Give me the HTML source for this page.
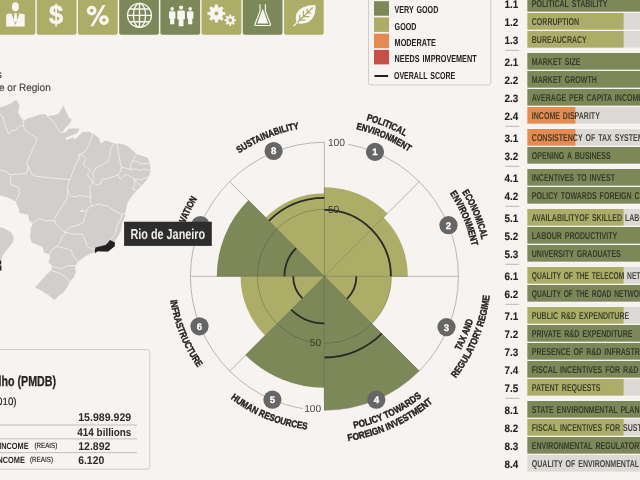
<!DOCTYPE html>
<html><head><meta charset="utf-8"><title>Rio de Janeiro</title>
<style>
html,body{margin:0;padding:0;background:#f6f3f0;}
body{width:640px;height:480px;overflow:hidden;position:relative;font-family:"Liberation Sans",sans-serif;}
svg{position:absolute;left:0;top:0;display:block;will-change:transform;text-rendering:geometricPrecision;font-family:"Liberation Sans",sans-serif;}
</style></head><body>
<svg width="640" height="480" viewBox="0 0 640 480">
<path d="M-4.4 -2H35.3V32.8a2 2 0 0 1 -2 2H-2.4a2 2 0 0 1 -2 -2Z" fill="#acae68"/>
<path d="M36.8 -2H76.5V32.8a2 2 0 0 1 -2 2H38.8a2 2 0 0 1 -2 -2Z" fill="#acae68"/>
<path d="M78 -2H117.7V32.8a2 2 0 0 1 -2 2H80a2 2 0 0 1 -2 -2Z" fill="#acae68"/>
<path d="M119.2 -2H158.9V32.8a2 2 0 0 1 -2 2H121.2a2 2 0 0 1 -2 -2Z" fill="#7d8859"/>
<path d="M160.4 -2H200.1V32.8a2 2 0 0 1 -2 2H162.4a2 2 0 0 1 -2 -2Z" fill="#7d8859"/>
<path d="M201.6 -2H241.3V32.8a2 2 0 0 1 -2 2H203.6a2 2 0 0 1 -2 -2Z" fill="#acae68"/>
<path d="M242.8 -2H282.5V32.8a2 2 0 0 1 -2 2H244.8a2 2 0 0 1 -2 -2Z" fill="#7d8859"/>
<path d="M284 -2H323.7V32.8a2 2 0 0 1 -2 2H286a2 2 0 0 1 -2 -2Z" fill="#acae68"/>
<g fill="#f8f6f2">
<ellipse cx="15.4" cy="6.8" rx="3.5" ry="4.5"/>
<path d="M6.2 26.6V15.6Q6.2 13.9 7.9 13.7L12.2 13.4H18.9L23 13.7Q24.7 13.9 24.7 15.6V26.6Z"/>
<path d="M11.5 13.2L15.45 25L19.5 13.2Z" fill="#acae68"/>
<path d="M14.3 13.2H16.7L17.1 20.2L15.5 22.6L13.9 20.2Z"/>
</g>
<text x="49.1" y="23.9" font-size="27" font-weight="bold" fill="#f8f6f2" textLength="14.2" lengthAdjust="spacingAndGlyphs" stroke="#f8f6f2" stroke-width="0.5">$</text>
<g fill="none" stroke="#f8f6f2" stroke-width="3.1"><circle cx="91.7" cy="10.6" r="3.35"/><circle cx="104" cy="20.1" r="3.35"/></g>
<path d="M102.6 5.1H105.6L93.3 26.3H90.3Z" fill="#f8f6f2"/>
<g fill="none" stroke="#f8f6f2" stroke-width="1.35"><circle cx="139.5" cy="15.3" r="11.9"/><ellipse cx="139.5" cy="15.3" rx="6.1" ry="11.9"/><path d="M139.5 3.4V27.2M127.6 15.3H151.4M129.4 9H149.6M129.4 21.7H149.6"/></g>
<g fill="#f8f6f2">
<circle cx="172.2" cy="8.9" r="1.8"/><path d="M169 12.5Q169 11.3 170.2 11.3H174.2Q175.4 11.3 175.4 12.5V18.45H174.3V24.3H170.1V18.45H169Z"/>
<circle cx="181.1" cy="7.6" r="2.1"/><path d="M177.3 11.7Q177.3 10.5 178.5 10.5H183.7Q184.9 10.5 184.9 11.7V19.19H183.5V26.3H178.7V19.19H177.3Z"/>
<circle cx="190.2" cy="8.9" r="1.8"/><path d="M187 12.5Q187 11.3 188.2 11.3H192.2Q193.4 11.3 193.4 12.5V18.45H192.3V24.3H188.1V18.45H187Z"/>
</g>
<g fill="#f8f6f2">
<path d="M222.82 11.96 L225.29 12.09 L225.29 14.91 L222.82 15.04 L222.03 16.95 L223.68 18.79 L221.69 20.78 L219.85 19.13 L217.94 19.92 L217.81 22.39 L214.99 22.39 L214.86 19.92 L212.95 19.13 L211.11 20.78 L209.12 18.79 L210.77 16.95 L209.98 15.04 L207.51 14.91 L207.51 12.09 L209.98 11.96 L210.77 10.05 L209.12 8.21 L211.11 6.22 L212.95 7.87 L214.86 7.08 L214.99 4.61 L217.81 4.61 L217.94 7.08 L219.85 7.87 L221.69 6.22 L223.68 8.21 L222.03 10.05Z M214.40 13.50a2 2 0 1 0 4 0a2 2 0 1 0 -4 0Z" fill-rule="evenodd"/>
<path d="M234.19 19.24 L235.93 19.29 L235.93 21.11 L234.19 21.16 L233.70 22.34 L234.89 23.61 L233.61 24.89 L232.34 23.70 L231.16 24.19 L231.11 25.93 L229.29 25.93 L229.24 24.19 L228.06 23.70 L226.79 24.89 L225.51 23.61 L226.70 22.34 L226.21 21.16 L224.47 21.11 L224.47 19.29 L226.21 19.24 L226.70 18.06 L225.51 16.79 L226.79 15.51 L228.06 16.70 L229.24 16.21 L229.29 14.47 L231.11 14.47 L231.16 16.21 L232.34 16.70 L233.61 15.51 L234.89 16.79 L233.70 18.06Z M228.30 20.20a1.9 1.9 0 1 0 3.8 0a1.9 1.9 0 1 0 -3.8 0Z" fill-rule="evenodd"/>
</g>
<path d="M260 4.2V11.4L254.9 24.2Q254.6 25.5 256 25.5H269.4Q270.8 25.5 270.5 24.2L265.4 11.4V4.2" fill="none" stroke="#f8f6f2" stroke-width="1.15" stroke-linejoin="round"/>
<path d="M262.7 8.6L257.2 23.6H268.2Z" fill="#f8f6f2"/>
<path d="M296.4 23.2Q293.6 12 302.6 7.6Q308.5 5 315.4 4.8Q316.2 12.4 312.9 17.8Q308 25.4 296.4 23.2Z" fill="#f8f6f2"/>
<path d="M293.9 25.8L312.2 8M303.4 16.6V11M303.4 16.6H309M299.8 20.1V15.2M299.8 20.1H305M307.2 12.9V9M307.2 12.9H310.6" fill="none" stroke="#acae68" stroke-width="1.2" stroke-linecap="round"/>
<path d="M293.9 25.8L297.4 22.4" fill="none" stroke="#f8f6f2" stroke-width="1.3" stroke-linecap="round"/>
<text x="-3.6" y="78" font-size="10.7" font-weight="normal" fill="#444" text-anchor="start" stroke="#444" stroke-width="0.15">s</text>
<text x="-1" y="90.6" font-size="10.7" font-weight="normal" fill="#444" text-anchor="start" textLength="51.7" lengthAdjust="spacingAndGlyphs" stroke="#444" stroke-width="0.15">e or Region</text>
<g stroke-linejoin="round" stroke-linecap="round">
<path d="M-3 226.9 L0 226.9 L5 228.8 L11.2 232.5 L13.8 237.5 L13.1 241.9 L9.4 246.9 L5 251.9 L2.5 256.2 L1.2 260 L0 261.2 L-3 261.2Z" fill="#d1cecd"/>
<path d="M-3 107.5 L0 107.5 L4.7 105.9 L10.9 103.6 L14.8 100.5 L17.2 100.5 L19.5 105.9 L18 112.2 L21.1 117.7 L23.4 120.8 L27.3 118.4 L32.8 116.9 L39.8 114.5 L45.3 114.1 L47.7 116.1 L53.9 115.3 L58.6 113.8 L63.3 105.2 L65.6 110.6 L68.8 117.7 L71.9 119.2 L69.5 123.9 L64.8 128.6 L62.5 132.5 L65.6 132.5 L68.8 128.6 L79.7 128.6 L77.3 133.3 L68.8 136.4 L65.6 138 L66.4 140.3 L73.4 137.2 L75 139.5 L80.5 134.1 L82.8 131.7 L89.1 131.7 L93.8 134.1 L99 138.3 L100.6 143.8 L105.3 140.6 L114.7 143.4 L122.5 144 L128.8 146.9 L136.6 153.9 L147.5 157.8 L149.8 163.3 L150.6 170.3 L149 176.6 L144.4 182.8 L141.2 185.9 L136.6 190.6 L131.9 196.3 L127.5 202.5 L125.9 210.3 L125.2 216.6 L122 223.6 L121.2 230.6 L118.1 236.1 L115 240.8 L115 242.3 L114.7 246.2 L111.1 249.1 L108 251.7 L102.5 251.2 L97 251.2 L95 252.8 L90.8 253.3 L83.3 257.5 L77.5 262.5 L75 266.7 L75.8 271.7 L74.2 276.7 L70 281.7 L67.5 286.7 L63.3 292.5 L57.5 296.7 L56.7 298.3 L54.2 300 L48.3 295 L40 290 L35 287.5 L40.8 280.8 L46.7 274.2 L51.7 270 L51.7 265 L48.3 262.5 L50 257.5 L49.2 254.2 L44.2 252.5 L42.5 246.7 L37.5 245 L31.7 242.5 L30 237.5 L30.8 231.7 L30.5 228.8 L32.8 223.3 L28.9 220.2 L28.1 214.7 L19.5 213.1 L18.8 208.4 L15.6 201.4 L7.8 197.5 L0 195.2 L-3 195Z" fill="#d1cecd"/>
<path d="M0 114.5 L3.1 116.9 L5.5 126.2 L8.6 134.1 L10.9 130.9 L15.6 130.2 L18.8 126.2 L23.4 125.5 M23.4 120.8 L23.4 125.5 L25 130.2 L37.5 138.8 L26.6 163 L28.1 166.2 M28.1 166.2 L26.6 173.3 L10.2 174.8 L4.7 170.9 L0 170.2 M28.1 166.2 L31.2 173.3 L35.9 176.4 L69.5 179.5 M46.9 116.1 L53.1 120.8 L59.4 131.7 L62.5 132.5 M92.8 133.6 L88.9 145.3 L85 151.6 L78.8 154.7 M78.8 154.7 L79.5 157.8 L74.8 166.4 L71.7 175 L69.5 179.5 M69.5 179.5 L67.2 188.1 L68.1 190 L66.6 199.4 L60.3 208.8 L54.8 218.1 L54.8 222 M78.8 154.7 L83.4 155.5 L85.8 158.6 L83.4 164.8 L90.5 170.3 L87.3 174.2 L89.7 178.1 L92.8 182 L89.7 187.5 L90.5 195.3 L90.8 197 M68.1 190 L69.7 195.5 L75.9 197 L79 195.5 L90.8 197 M114.7 143.4 L110.8 148.4 L109.2 158.6 L106.9 162.5 L95.9 168 L92.8 173.4 L93.6 179.7 L92.8 182 M117 144 L118.6 153.1 L120.2 162.5 L121.7 167.2 M121.7 167.2 L120.2 171.9 L117.8 175 L106.9 178.9 L102.2 178.9 L100.6 183.6 L95.9 185.2 L92.8 182 M136.6 153.9 L132.7 160.9 L130.3 166.4 L131.1 169.5 L121.7 167.2 M132.7 160.9 L138.1 161.7 L141.2 164 L149.8 163.3 M131.1 169.5 L136.6 168.8 L138.1 170.3 L144.4 169.5 L150.6 170.3 M117.8 175 L120.2 178.9 L125.6 174.2 L130.3 176.6 L134.2 178.9 L141.2 179.7 L149 176.6 M134.2 178.9 L136.6 182 L141.2 185.9 M134.2 178.9 L135 184.4 L132.7 189 L136.6 190.6 M90.8 197 L90 199.4 L91.6 206.4 M86.9 209.5 L90.8 206.4 L99.4 203.8 L103.3 205.6 L107.2 205.6 L112.7 209.5 L116.6 211.9 L122 214.7 L125.7 213 M122 214.7 L120.5 219.7 L117.3 225.2 L115.8 232.2 L113.4 236.9 L110.3 240 M86.9 209.5 L85.3 215.8 L83 222.8 L78.3 225.2 L68.9 227.5 L65 232.2 M81 210.3 L83.8 210.3 L83.8 211.5 L81 211.5 L81 210.3 M32.8 223.3 L39.1 218.6 L45.3 220.9 L51.6 220.2 L54.8 222 M54.8 222 L58.8 227.5 L65 232.2 M65 232.2 L66.7 232.5 L63.3 235 L59.2 243.3 L56.7 246.7 L51.7 250 L49.2 254.2 M66.7 232.5 L73.3 234.2 L82.5 234.2 L85 240 L87.5 246.7 L93.3 249.2 L94.7 248.6 M56.7 246.7 L61.7 247.5 L70.8 250 L73.3 255.8 L77.5 260.8 L77.5 262.5 M51.7 266.7 L62.5 268.7 L66.7 265.8 L75 265.5 M51.7 270.8 L58.3 272.5 L65 276.7 L68.3 280 L70 281.7 M10.2 174.8 L10.9 185 L18.8 187.3 L19.5 193.6 L15.6 201.4" fill="none" stroke="#f4f1ee" stroke-width="0.8"/>
<path d="M110 239.9 L114.9 242.4 L114.8 246.3 L112.5 248.1 L109.4 250.6 L108.1 251.6 L102.5 251.6 L97.5 251.3 L95.3 253.3 L94.8 250 L95.5 247.4 L101.2 246 L105.6 245 L108.1 242.5Z" fill="#222"/>
<path d="M-1 260.6H1.2V264.6H-1ZM-1 265.6H1.4V270.6H-1Z" fill="#222"/>
</g>
<g fill="none" stroke="#a9a6a3" stroke-width="0.8">
<circle cx="324.4" cy="276.3" r="134"/>
<line x1="324.4" y1="276.3" x2="324.4" y2="142.3"/>
<line x1="324.4" y1="276.3" x2="419.15" y2="181.55"/>
<line x1="324.4" y1="276.3" x2="458.4" y2="276.3"/>
<line x1="324.4" y1="276.3" x2="419.15" y2="371.05"/>
<line x1="324.4" y1="276.3" x2="324.4" y2="410.3"/>
<line x1="324.4" y1="276.3" x2="229.65" y2="371.05"/>
<line x1="324.4" y1="276.3" x2="190.4" y2="276.3"/>
<line x1="324.4" y1="276.3" x2="229.65" y2="181.55"/>
</g>
<path d="M324.4 276.3L324.4 187.3A89 89 0 0 1 387.33 213.37Z" fill="#acae68"/>
<path d="M324.4 276.3L383.44 217.26A83.5 83.5 0 0 1 407.9 276.3Z" fill="#acae68"/>
<path d="M324.4 276.3L391.4 276.3A67 67 0 0 1 371.78 323.68Z" fill="#acae68"/>
<path d="M324.4 276.3L419.15 371.05A134 134 0 0 1 324.4 410.3Z" fill="#7d8859"/>
<path d="M324.4 276.3L324.4 387.8A111.5 111.5 0 0 1 245.56 355.14Z" fill="#7d8859"/>
<path d="M324.4 276.3L265.14 335.56A83.8 83.8 0 0 1 240.6 276.3Z" fill="#acae68"/>
<path d="M324.4 276.3L216.8 276.3A107.6 107.6 0 0 1 248.32 200.22Z" fill="#7d8859"/>
<path d="M324.4 276.3L265.71 217.61A83 83 0 0 1 324.4 193.3Z" fill="#acae68"/>
<g fill="none" stroke="#3c4022" stroke-opacity="0.45" stroke-width="0.7">
<circle cx="324.4" cy="276.3" r="67"/>
<line x1="324.4" y1="276.3" x2="324.4" y2="187.3"/>
<line x1="324.4" y1="276.3" x2="387.33" y2="213.37"/>
<line x1="324.4" y1="276.3" x2="407.9" y2="276.3"/>
<line x1="324.4" y1="276.3" x2="419.15" y2="371.05"/>
<line x1="324.4" y1="276.3" x2="324.4" y2="410.3"/>
<line x1="324.4" y1="276.3" x2="245.56" y2="355.14"/>
<line x1="324.4" y1="276.3" x2="216.8" y2="276.3"/>
<line x1="324.4" y1="276.3" x2="248.32" y2="200.22"/>
</g>
<g fill="none" stroke="#2a2a2a" stroke-width="1.8">
<path d="M324.4 209.8A66.5 66.5 0 0 1 371.42 229.28"/>
<path d="M371.42 229.28A66.5 66.5 0 0 1 390.9 276.3"/>
<path d="M356.4 276.3A32 32 0 0 1 347.03 298.93"/>
<path d="M381.82 333.72A81.2 81.2 0 0 1 324.4 357.5"/>
<path d="M324.4 323.3A47 47 0 0 1 291.17 309.53"/>
<path d="M302.34 298.36A31.2 31.2 0 0 1 293.2 276.3"/>
<path d="M284.4 276.3A40 40 0 0 1 296.12 248.02"/>
<path d="M268.96 220.86A78.4 78.4 0 0 1 324.4 197.9"/>
</g>
<rect x="325" y="136" width="23" height="13" fill="#f6f3f0"/>
<text x="327.9" y="146" font-size="10.3" font-weight="normal" fill="#4a4a4a" text-anchor="start">100</text>
<text x="327.9" y="212.6" font-size="10.3" font-weight="normal" fill="#3a3a3a" text-anchor="start">50</text>
<rect x="303" y="402.5" width="21" height="13" fill="#f6f3f0"/>
<text x="321.2" y="412.3" font-size="10.2" font-weight="normal" fill="#4a4a4a" text-anchor="end">100</text>
<rect x="309.5" y="337.5" width="14.4" height="10" fill="#7d8859"/>
<text x="321.2" y="345.7" font-size="10.2" font-weight="normal" fill="#33361f" text-anchor="end">50</text>
<circle cx="375" cy="151.9" r="9.1" fill="#666"/>
<text x="375" y="155.35" font-size="9.6" font-weight="bold" fill="#fff" text-anchor="middle" stroke="#fff" stroke-width="0.3">1</text>
<circle cx="448.5" cy="225.2" r="9.1" fill="#666"/>
<text x="448.5" y="228.65" font-size="9.6" font-weight="bold" fill="#fff" text-anchor="middle" stroke="#fff" stroke-width="0.3">2</text>
<circle cx="446.5" cy="327.1" r="9.1" fill="#666"/>
<text x="446.5" y="330.55" font-size="9.6" font-weight="bold" fill="#fff" text-anchor="middle" stroke="#fff" stroke-width="0.3">3</text>
<circle cx="376.3" cy="399.7" r="9.1" fill="#666"/>
<text x="376.3" y="403.15" font-size="9.6" font-weight="bold" fill="#fff" text-anchor="middle" stroke="#fff" stroke-width="0.3">4</text>
<circle cx="272.4" cy="399.7" r="9.1" fill="#666"/>
<text x="272.4" y="403.15" font-size="9.6" font-weight="bold" fill="#fff" text-anchor="middle" stroke="#fff" stroke-width="0.3">5</text>
<circle cx="199.5" cy="326.3" r="9.1" fill="#666"/>
<text x="199.5" y="329.75" font-size="9.6" font-weight="bold" fill="#fff" text-anchor="middle" stroke="#fff" stroke-width="0.3">6</text>
<circle cx="200.4" cy="225" r="9.1" fill="#666"/>
<circle cx="273.6" cy="151" r="9.1" fill="#666"/>
<text x="273.6" y="154.45" font-size="9.6" font-weight="bold" fill="#fff" text-anchor="middle" stroke="#fff" stroke-width="0.3">8</text>
<g font-size="9.7" font-weight="bold" fill="#222" stroke="#222" stroke-width="0.4">
<path id="lp0" d="M366.2 120.3A161.5 161.5 0 0 1 405.15 136.44" fill="none" stroke="none"/>
<text textLength="41.98" lengthAdjust="spacingAndGlyphs"><textPath href="#lp0" textLength="41.98" lengthAdjust="spacingAndGlyphs">POLITICAL</textPath></text>
<path id="lp1" d="M355.91 129.34A150.3 150.3 0 0 1 408.88 151.99" fill="none" stroke="none"/>
<text textLength="57.67" lengthAdjust="spacingAndGlyphs"><textPath href="#lp1" textLength="57.67" lengthAdjust="spacingAndGlyphs">ENVIRONMENT</textPath></text>
<path id="lp2" d="M462.1 191.92A161.5 161.5 0 0 1 481.76 239.97" fill="none" stroke="none"/>
<text textLength="51.85" lengthAdjust="spacingAndGlyphs"><textPath href="#lp2" textLength="51.85" lengthAdjust="spacingAndGlyphs">ECONOMICAL</textPath></text>
<path id="lp3" d="M449.73 193.34A150.3 150.3 0 0 1 471.68 246.33" fill="none" stroke="none"/>
<text textLength="57.41" lengthAdjust="spacingAndGlyphs"><textPath href="#lp3" textLength="57.41" lengthAdjust="spacingAndGlyphs">ENVIRONMENT</textPath></text>
<path id="lp4" d="M460.23 350.97A155 155 0 0 0 473.17 319.8" fill="none" stroke="none"/>
<text textLength="33.52" lengthAdjust="spacingAndGlyphs"><textPath href="#lp4" textLength="33.52" lengthAdjust="spacingAndGlyphs">TAX AND</textPath></text>
<path id="lp5" d="M455.7 378.52A166.4 166.4 0 0 0 489.7 295.43" fill="none" stroke="none"/>
<text textLength="90.6" lengthAdjust="spacingAndGlyphs"><textPath href="#lp5" textLength="90.6" lengthAdjust="spacingAndGlyphs">REGULATORY REGIME</textPath></text>
<path id="lp6" d="M353.98 428.45A155 155 0 0 0 421.94 396.76" fill="none" stroke="none"/>
<text textLength="75.45" lengthAdjust="spacingAndGlyphs"><textPath href="#lp6" textLength="75.45" lengthAdjust="spacingAndGlyphs">POLICY TOWARDS</textPath></text>
<path id="lp7" d="M348.13 441A166.4 166.4 0 0 0 433.13 402.26" fill="none" stroke="none"/>
<text textLength="94.38" lengthAdjust="spacingAndGlyphs"><textPath href="#lp7" textLength="94.38" lengthAdjust="spacingAndGlyphs">FOREIGN INVESTMENT</textPath></text>
<path id="lp8" d="M230.65 398.48A154 154 0 0 0 307.23 429.34" fill="none" stroke="none"/>
<text textLength="83.29" lengthAdjust="spacingAndGlyphs"><textPath href="#lp8" textLength="83.29" lengthAdjust="spacingAndGlyphs">HUMAN RESOURCES</textPath></text>
<path id="lp9" d="M170.28 300.43A156 156 0 0 0 198.03 367.77" fill="none" stroke="none"/>
<text textLength="73.21" lengthAdjust="spacingAndGlyphs"><textPath href="#lp9" textLength="73.21" lengthAdjust="spacingAndGlyphs">INFRASTRUCTURE</textPath></text>
<path id="lp10" d="M179.52 241.52A149 149 0 0 1 197.36 198.45" fill="none" stroke="none"/>
<text textLength="46.51" lengthAdjust="spacingAndGlyphs"><textPath href="#lp10" textLength="46.51" lengthAdjust="spacingAndGlyphs">INNOVATION</textPath></text>
<path id="lp11" d="M239.08 153.54A149.5 149.5 0 0 1 299.47 128.89" fill="none" stroke="none"/>
<text textLength="65.45" lengthAdjust="spacingAndGlyphs"><textPath href="#lp11" textLength="65.45" lengthAdjust="spacingAndGlyphs">SUSTAINABILITY</textPath></text>
</g>
<rect x="368.5" y="-5" width="122.3" height="90" rx="2.5" fill="none" stroke="#cfccc9" stroke-width="1"/>
<rect x="374" y="1.2" width="15" height="14.5" fill="#7d8859"/>
<text x="394.6" y="12.8" font-size="10.1" font-weight="bold" fill="#222" text-anchor="start" textLength="43.7" lengthAdjust="spacingAndGlyphs" word-spacing="1.41">VERY GOOD</text>
<rect x="374" y="17.43" width="15" height="14.5" fill="#acae68"/>
<text x="394.6" y="29.8" font-size="10.1" font-weight="bold" fill="#222" text-anchor="start" textLength="21.8" lengthAdjust="spacingAndGlyphs" word-spacing="1.41">GOOD</text>
<rect x="374" y="33.66" width="15" height="14.5" fill="#e68b50"/>
<text x="394.6" y="45.8" font-size="10.1" font-weight="bold" fill="#222" text-anchor="start" textLength="41.2" lengthAdjust="spacingAndGlyphs" word-spacing="1.41">MODERATE</text>
<rect x="374" y="49.89" width="15" height="14.5" fill="#c84f48"/>
<text x="394.6" y="61.8" font-size="10.1" font-weight="bold" fill="#222" text-anchor="start" textLength="82" lengthAdjust="spacingAndGlyphs" word-spacing="1.41">NEEDS IMPROVEMENT</text>
<rect x="374.5" y="75" width="13.6" height="2" fill="#222"/>
<text x="394" y="79" font-size="10.1" font-weight="bold" fill="#222" text-anchor="start" textLength="61.1" lengthAdjust="spacingAndGlyphs" word-spacing="1.41">OVERALL SCORE</text>
<rect x="527.4" y="-5" width="112.6" height="16.6" fill="#dcd9d6"/>
<rect x="527.4" y="-5" width="112.6" height="16.6" fill="#7d8859"/>
<text x="504.5" y="7.7" font-size="10.8" font-weight="bold" fill="#222" text-anchor="start" textLength="13.76" lengthAdjust="spacingAndGlyphs" stroke="#222" stroke-width="0.1">1.1</text>
<text x="531.8" y="6.75" font-size="10" font-weight="bold" fill="#2b2d22" text-anchor="start" textLength="75.72" lengthAdjust="spacingAndGlyphs" fill-opacity="0.85" word-spacing="1.41">POLITICAL STABILITY</text>
<rect x="527.4" y="13" width="112.6" height="16.6" fill="#dcd9d6"/>
<rect x="527.4" y="13" width="96.2" height="16.6" fill="#acae68"/>
<text x="504.5" y="25.7" font-size="10.8" font-weight="bold" fill="#222" text-anchor="start" textLength="13.76" lengthAdjust="spacingAndGlyphs" stroke="#222" stroke-width="0.1">1.2</text>
<text x="531.8" y="24.75" font-size="10" font-weight="bold" fill="#2b2d22" text-anchor="start" textLength="47.19" lengthAdjust="spacingAndGlyphs" fill-opacity="0.85" word-spacing="1.41">CORRUPTION</text>
<rect x="527.4" y="31" width="112.6" height="16.6" fill="#dcd9d6"/>
<rect x="527.4" y="31" width="96.2" height="16.6" fill="#acae68"/>
<text x="504.5" y="43.7" font-size="10.8" font-weight="bold" fill="#222" text-anchor="start" textLength="13.76" lengthAdjust="spacingAndGlyphs" stroke="#222" stroke-width="0.1">1.3</text>
<text x="531.8" y="42.75" font-size="10" font-weight="bold" fill="#2b2d22" text-anchor="start" textLength="54.99" lengthAdjust="spacingAndGlyphs" fill-opacity="0.85" word-spacing="1.41">BUREAUCRACY</text>
<rect x="505.3" y="49.8" width="14" height="1" fill="#b9b6b3"/>
<rect x="527.4" y="53" width="112.6" height="16.6" fill="#dcd9d6"/>
<rect x="527.4" y="53" width="112.6" height="16.6" fill="#7d8859"/>
<text x="504.5" y="65.7" font-size="10.8" font-weight="bold" fill="#222" text-anchor="start" textLength="13.76" lengthAdjust="spacingAndGlyphs" stroke="#222" stroke-width="0.1">2.1</text>
<text x="531.8" y="64.75" font-size="10" font-weight="bold" fill="#2b2d22" text-anchor="start" textLength="48.68" lengthAdjust="spacingAndGlyphs" fill-opacity="0.85" word-spacing="1.41">MARKET SIZE</text>
<rect x="527.4" y="71" width="112.6" height="16.6" fill="#dcd9d6"/>
<rect x="527.4" y="71" width="112.6" height="16.6" fill="#7d8859"/>
<text x="504.5" y="83.7" font-size="10.8" font-weight="bold" fill="#222" text-anchor="start" textLength="13.76" lengthAdjust="spacingAndGlyphs" stroke="#222" stroke-width="0.1">2.2</text>
<text x="531.8" y="82.75" font-size="10" font-weight="bold" fill="#2b2d22" text-anchor="start" textLength="65.05" lengthAdjust="spacingAndGlyphs" fill-opacity="0.85" word-spacing="1.41">MARKET GROWTH</text>
<rect x="527.4" y="89" width="112.6" height="16.6" fill="#dcd9d6"/>
<rect x="527.4" y="89" width="112.6" height="16.6" fill="#7d8859"/>
<text x="504.5" y="101.7" font-size="10.8" font-weight="bold" fill="#222" text-anchor="start" textLength="13.76" lengthAdjust="spacingAndGlyphs" stroke="#222" stroke-width="0.1">2.3</text>
<text x="531.8" y="100.75" font-size="10" font-weight="bold" fill="#2b2d22" text-anchor="start" textLength="111.21" lengthAdjust="spacingAndGlyphs" fill-opacity="0.85" word-spacing="1.41">AVERAGE PER CAPITA INCOME</text>
<rect x="527.4" y="107" width="112.6" height="16.6" fill="#dcd9d6"/>
<rect x="527.4" y="107" width="48" height="16.6" fill="#e68b50"/>
<text x="504.5" y="119.7" font-size="10.8" font-weight="bold" fill="#222" text-anchor="start" textLength="13.76" lengthAdjust="spacingAndGlyphs" stroke="#222" stroke-width="0.1">2.4</text>
<text x="531.8" y="118.75" font-size="10" font-weight="bold" fill="#2b2d22" text-anchor="start" textLength="68.06" lengthAdjust="spacingAndGlyphs" fill-opacity="0.85" word-spacing="1.41">INCOME DISPARITY</text>
<rect x="505.3" y="125.8" width="14" height="1" fill="#b9b6b3"/>
<rect x="527.4" y="129" width="112.6" height="16.6" fill="#dcd9d6"/>
<rect x="527.4" y="129" width="48" height="16.6" fill="#e68b50"/>
<text x="504.5" y="141.7" font-size="10.8" font-weight="bold" fill="#222" text-anchor="start" textLength="13.76" lengthAdjust="spacingAndGlyphs" stroke="#222" stroke-width="0.1">3.1</text>
<text x="531.8" y="140.75" font-size="10" font-weight="bold" fill="#2b2d22" text-anchor="start" textLength="111.87" lengthAdjust="spacingAndGlyphs" fill-opacity="0.85" word-spacing="1.41">CONSISTENCY OF TAX SYSTEM</text>
<rect x="527.4" y="147" width="112.6" height="16.6" fill="#dcd9d6"/>
<rect x="527.4" y="147" width="112.6" height="16.6" fill="#7d8859"/>
<text x="504.5" y="159.7" font-size="10.8" font-weight="bold" fill="#222" text-anchor="start" textLength="13.76" lengthAdjust="spacingAndGlyphs" stroke="#222" stroke-width="0.1">3.2</text>
<text x="531.8" y="158.75" font-size="10" font-weight="bold" fill="#2b2d22" text-anchor="start" textLength="78.91" lengthAdjust="spacingAndGlyphs" fill-opacity="0.85" word-spacing="1.41">OPENING A BUSINESS</text>
<rect x="505.3" y="165.8" width="14" height="1" fill="#b9b6b3"/>
<rect x="527.4" y="169" width="112.6" height="16.6" fill="#dcd9d6"/>
<rect x="527.4" y="169" width="112.6" height="16.6" fill="#7d8859"/>
<text x="504.5" y="181.7" font-size="10.8" font-weight="bold" fill="#222" text-anchor="start" textLength="13.76" lengthAdjust="spacingAndGlyphs" stroke="#222" stroke-width="0.1">4.1</text>
<text x="531.8" y="180.75" font-size="10" font-weight="bold" fill="#2b2d22" text-anchor="start" textLength="83.21" lengthAdjust="spacingAndGlyphs" fill-opacity="0.85" word-spacing="1.41">INCENTIVES TO INVEST</text>
<rect x="527.4" y="187" width="112.6" height="16.6" fill="#dcd9d6"/>
<rect x="527.4" y="187" width="112.6" height="16.6" fill="#7d8859"/>
<text x="504.5" y="199.7" font-size="10.8" font-weight="bold" fill="#222" text-anchor="start" textLength="13.76" lengthAdjust="spacingAndGlyphs" stroke="#222" stroke-width="0.1">4.2</text>
<text x="531.8" y="198.75" font-size="10" font-weight="bold" fill="#2b2d22" text-anchor="start" textLength="132.79" lengthAdjust="spacingAndGlyphs" fill-opacity="0.85" word-spacing="1.41">POLICY TOWARDS FOREIGN CAPITAL</text>
<rect x="505.3" y="205.8" width="14" height="1" fill="#b9b6b3"/>
<rect x="527.4" y="209" width="112.6" height="16.6" fill="#dcd9d6"/>
<rect x="527.4" y="209" width="96.2" height="16.6" fill="#acae68"/>
<text x="504.5" y="221.7" font-size="10.8" font-weight="bold" fill="#222" text-anchor="start" textLength="13.76" lengthAdjust="spacingAndGlyphs" stroke="#222" stroke-width="0.1">5.1</text>
<text x="531.8" y="220.75" font-size="10" font-weight="bold" fill="#2b2d22" text-anchor="start" textLength="123.23" lengthAdjust="spacingAndGlyphs" fill-opacity="0.85" word-spacing="1.41">AVAILABILITYOF SKILLED LABOUR</text>
<rect x="527.4" y="227" width="112.6" height="16.6" fill="#dcd9d6"/>
<rect x="527.4" y="227" width="112.6" height="16.6" fill="#7d8859"/>
<text x="504.5" y="239.7" font-size="10.8" font-weight="bold" fill="#222" text-anchor="start" textLength="13.76" lengthAdjust="spacingAndGlyphs" stroke="#222" stroke-width="0.1">5.2</text>
<text x="531.8" y="238.75" font-size="10" font-weight="bold" fill="#2b2d22" text-anchor="start" textLength="85.34" lengthAdjust="spacingAndGlyphs" fill-opacity="0.85" word-spacing="1.41">LABOUR PRODUCTIVITY</text>
<rect x="527.4" y="245" width="112.6" height="16.6" fill="#dcd9d6"/>
<rect x="527.4" y="245" width="112.6" height="16.6" fill="#7d8859"/>
<text x="504.5" y="257.7" font-size="10.8" font-weight="bold" fill="#222" text-anchor="start" textLength="13.76" lengthAdjust="spacingAndGlyphs" stroke="#222" stroke-width="0.1">5.3</text>
<text x="531.8" y="256.75" font-size="10" font-weight="bold" fill="#2b2d22" text-anchor="start" textLength="88.99" lengthAdjust="spacingAndGlyphs" fill-opacity="0.85" word-spacing="1.41">UNIVERSITY GRADUATES</text>
<rect x="505.3" y="263.8" width="14" height="1" fill="#b9b6b3"/>
<rect x="527.4" y="267" width="112.6" height="16.6" fill="#dcd9d6"/>
<rect x="527.4" y="267" width="96.2" height="16.6" fill="#acae68"/>
<text x="504.5" y="279.7" font-size="10.8" font-weight="bold" fill="#222" text-anchor="start" textLength="13.76" lengthAdjust="spacingAndGlyphs" stroke="#222" stroke-width="0.1">6.1</text>
<text x="531.8" y="278.75" font-size="10" font-weight="bold" fill="#2b2d22" text-anchor="start" textLength="129.71" lengthAdjust="spacingAndGlyphs" fill-opacity="0.85" word-spacing="1.41">QUALITY OF THE TELECOM NETWORK</text>
<rect x="527.4" y="285" width="112.6" height="16.6" fill="#dcd9d6"/>
<rect x="527.4" y="285" width="112.6" height="16.6" fill="#7d8859"/>
<text x="504.5" y="297.7" font-size="10.8" font-weight="bold" fill="#222" text-anchor="start" textLength="13.76" lengthAdjust="spacingAndGlyphs" stroke="#222" stroke-width="0.1">6.2</text>
<text x="531.8" y="296.75" font-size="10" font-weight="bold" fill="#2b2d22" text-anchor="start" textLength="116.81" lengthAdjust="spacingAndGlyphs" fill-opacity="0.85" word-spacing="1.41">QUALITY OF THE ROAD NETWORK</text>
<rect x="505.3" y="303.8" width="14" height="1" fill="#b9b6b3"/>
<rect x="527.4" y="307" width="112.6" height="16.6" fill="#dcd9d6"/>
<rect x="527.4" y="307" width="96.2" height="16.6" fill="#acae68"/>
<text x="504.5" y="319.7" font-size="10.8" font-weight="bold" fill="#222" text-anchor="start" textLength="13.76" lengthAdjust="spacingAndGlyphs" stroke="#222" stroke-width="0.1">7.1</text>
<text x="531.8" y="318.75" font-size="10" font-weight="bold" fill="#2b2d22" text-anchor="start" textLength="97.37" lengthAdjust="spacingAndGlyphs" fill-opacity="0.85" word-spacing="1.41">PUBLIC R&amp;D EXPENDITURE</text>
<rect x="527.4" y="325" width="112.6" height="16.6" fill="#dcd9d6"/>
<rect x="527.4" y="325" width="112.6" height="16.6" fill="#7d8859"/>
<text x="504.5" y="337.7" font-size="10.8" font-weight="bold" fill="#222" text-anchor="start" textLength="13.76" lengthAdjust="spacingAndGlyphs" stroke="#222" stroke-width="0.1">7.2</text>
<text x="531.8" y="336.75" font-size="10" font-weight="bold" fill="#2b2d22" text-anchor="start" textLength="100.62" lengthAdjust="spacingAndGlyphs" fill-opacity="0.85" word-spacing="1.41">PRIVATE R&amp;D EXPENDITURE</text>
<rect x="527.4" y="343" width="112.6" height="16.6" fill="#dcd9d6"/>
<rect x="527.4" y="343" width="112.6" height="16.6" fill="#7d8859"/>
<text x="504.5" y="355.7" font-size="10.8" font-weight="bold" fill="#222" text-anchor="start" textLength="13.76" lengthAdjust="spacingAndGlyphs" stroke="#222" stroke-width="0.1">7.3</text>
<text x="531.8" y="354.75" font-size="10" font-weight="bold" fill="#2b2d22" text-anchor="start" textLength="137.47" lengthAdjust="spacingAndGlyphs" fill-opacity="0.85" word-spacing="1.41">PRESENCE OF R&amp;D INFRASTRUCTURE</text>
<rect x="527.4" y="361" width="112.6" height="16.6" fill="#dcd9d6"/>
<rect x="527.4" y="361" width="112.6" height="16.6" fill="#7d8859"/>
<text x="504.5" y="373.7" font-size="10.8" font-weight="bold" fill="#222" text-anchor="start" textLength="13.76" lengthAdjust="spacingAndGlyphs" stroke="#222" stroke-width="0.1">7.4</text>
<text x="531.8" y="372.75" font-size="10" font-weight="bold" fill="#2b2d22" text-anchor="start" textLength="106.53" lengthAdjust="spacingAndGlyphs" fill-opacity="0.85" word-spacing="1.41">FISCAL INCENTIVES FOR R&amp;D</text>
<rect x="527.4" y="379" width="112.6" height="16.6" fill="#dcd9d6"/>
<rect x="527.4" y="379" width="96.2" height="16.6" fill="#acae68"/>
<text x="504.5" y="391.7" font-size="10.8" font-weight="bold" fill="#222" text-anchor="start" textLength="13.76" lengthAdjust="spacingAndGlyphs" stroke="#222" stroke-width="0.1">7.5</text>
<text x="531.8" y="390.75" font-size="10" font-weight="bold" fill="#2b2d22" text-anchor="start" textLength="68.71" lengthAdjust="spacingAndGlyphs" fill-opacity="0.85" word-spacing="1.41">PATENT REQUESTS</text>
<rect x="505.3" y="397.8" width="14" height="1" fill="#b9b6b3"/>
<rect x="527.4" y="401" width="112.6" height="16.6" fill="#dcd9d6"/>
<rect x="527.4" y="401" width="112.6" height="16.6" fill="#7d8859"/>
<text x="504.5" y="413.7" font-size="10.8" font-weight="bold" fill="#222" text-anchor="start" textLength="13.76" lengthAdjust="spacingAndGlyphs" stroke="#222" stroke-width="0.1">8.1</text>
<text x="531.8" y="412.75" font-size="10" font-weight="bold" fill="#2b2d22" text-anchor="start" textLength="125.31" lengthAdjust="spacingAndGlyphs" fill-opacity="0.85" word-spacing="1.41">STATE ENVIRONMENTAL PLANNING</text>
<rect x="527.4" y="419" width="112.6" height="16.6" fill="#dcd9d6"/>
<rect x="527.4" y="419" width="96.2" height="16.6" fill="#acae68"/>
<text x="504.5" y="431.7" font-size="10.8" font-weight="bold" fill="#222" text-anchor="start" textLength="13.76" lengthAdjust="spacingAndGlyphs" stroke="#222" stroke-width="0.1">8.2</text>
<text x="531.8" y="430.75" font-size="10" font-weight="bold" fill="#2b2d22" text-anchor="start" textLength="148.91" lengthAdjust="spacingAndGlyphs" fill-opacity="0.85" word-spacing="1.41">FISCAL INCENTIVES FOR SUSTAINABILITY</text>
<rect x="527.4" y="437" width="112.6" height="16.6" fill="#dcd9d6"/>
<rect x="527.4" y="437" width="112.6" height="16.6" fill="#7d8859"/>
<text x="504.5" y="449.7" font-size="10.8" font-weight="bold" fill="#222" text-anchor="start" textLength="13.76" lengthAdjust="spacingAndGlyphs" stroke="#222" stroke-width="0.1">8.3</text>
<text x="531.8" y="448.75" font-size="10" font-weight="bold" fill="#2b2d22" text-anchor="start" textLength="161.97" lengthAdjust="spacingAndGlyphs" fill-opacity="0.85" word-spacing="1.41">ENVIRONMENTAL REGULATORY FRAMEWORK</text>
<rect x="527.4" y="455" width="112.6" height="16.6" fill="#dcd9d6"/>
<text x="504.5" y="467.7" font-size="10.8" font-weight="bold" fill="#222" text-anchor="start" textLength="13.76" lengthAdjust="spacingAndGlyphs" stroke="#222" stroke-width="0.1">8.4</text>
<text x="531.8" y="466.75" font-size="10" font-weight="bold" fill="#2b2d22" text-anchor="start" textLength="144.87" lengthAdjust="spacingAndGlyphs" fill-opacity="0.85" word-spacing="1.41">QUALITY OF ENVIRONMENTAL CONTROL</text>
<rect x="-5" y="349.6" width="154.8" height="119.5" rx="2.5" fill="none" stroke="#cfccc9" stroke-width="1"/>
<text x="-1.5" y="386" font-size="14.4" font-weight="bold" fill="#262626" text-anchor="start" textLength="57.5" lengthAdjust="spacingAndGlyphs" stroke="#262626" stroke-width="0.3">lho (PMDB)</text>
<text x="-3" y="405" font-size="10.6" font-weight="normal" fill="#222" text-anchor="start" textLength="19.6" lengthAdjust="spacingAndGlyphs" stroke="#222" stroke-width="0.15">010)</text>
<rect x="-2" y="424.6" width="139" height="0.8" fill="#b5b2af"/>
<rect x="-2" y="438.5" width="139" height="0.8" fill="#b5b2af"/>
<rect x="-2" y="452.3" width="139" height="0.8" fill="#b5b2af"/>
<text x="78.2" y="420.8" font-size="11.2" font-weight="bold" fill="#2a2a2a" text-anchor="start" textLength="53" lengthAdjust="spacingAndGlyphs">15.989.929</text>
<text x="77.3" y="435.6" font-size="11.2" font-weight="bold" fill="#2a2a2a" text-anchor="start" textLength="54" lengthAdjust="spacingAndGlyphs">414 billions</text>
<text x="78.2" y="449.6" font-size="11.2" font-weight="bold" fill="#2a2a2a" text-anchor="start" textLength="32.2" lengthAdjust="spacingAndGlyphs">12.892</text>
<text x="78.2" y="464" font-size="11.2" font-weight="bold" fill="#2a2a2a" text-anchor="start" textLength="26" lengthAdjust="spacingAndGlyphs">6.120</text>
<text x="-0.8" y="448.6" font-size="9" font-weight="bold" fill="#2a2a2a" text-anchor="start" textLength="29.4" lengthAdjust="spacingAndGlyphs">INCOME</text>
<text x="34.4" y="448.4" font-size="7.6" font-weight="normal" fill="#222" text-anchor="start" textLength="23" lengthAdjust="spacingAndGlyphs" stroke="#222" stroke-width="0.15">(REAIS)</text>
<text x="-4.6" y="462.6" font-size="9" font-weight="bold" fill="#2a2a2a" text-anchor="start" textLength="29.4" lengthAdjust="spacingAndGlyphs">INCOME</text>
<text x="30" y="462.4" font-size="7.6" font-weight="normal" fill="#222" text-anchor="start" textLength="23" lengthAdjust="spacingAndGlyphs" stroke="#222" stroke-width="0.15">(REAIS)</text>
<rect x="124.1" y="221.7" width="87.7" height="24.2" fill="#2d2d2d"/>
<text x="130.5" y="239.3" font-size="14.4" font-weight="bold" fill="#f1ede9" text-anchor="start" textLength="74.6" lengthAdjust="spacingAndGlyphs">Rio de Janeiro</text>
</svg>
</body></html>
